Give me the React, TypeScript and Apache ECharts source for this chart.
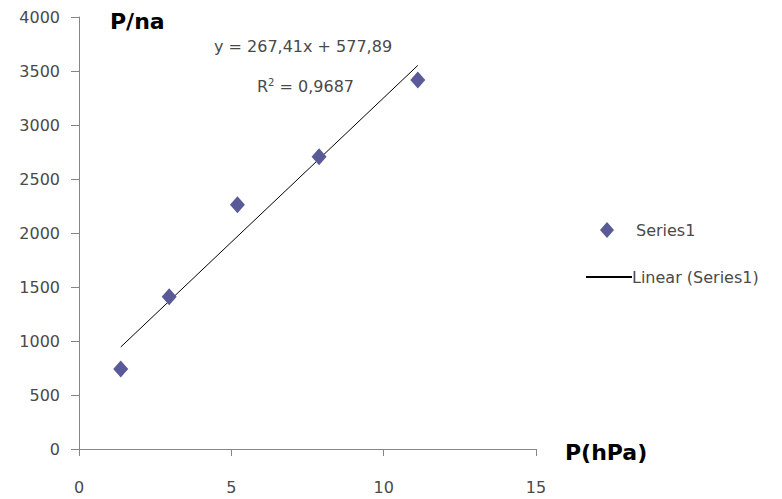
import React, { useEffect, useRef } from "react";
import * as echarts from "echarts";

const xValues = [1.37, 2.96, 5.2, 7.88, 11.12];
const yValues = [741, 1410, 2262, 2707, 3417];
const slope = 267.41;
const intercept = 577.89;
const rSquared = "0,9687";
const seriesName = "Series1";
const trendName = "Linear (Series1)";
const xTicks = [0, 5, 10, 15];
const yTicks = [0, 500, 1000, 1500, 2000, 2500, 3000, 3500, 4000];

const FONT = "DejaVu Sans";

export default function App() {
  const ref = useRef<HTMLDivElement>(null);
  useEffect(() => {
    if (!ref.current) return;
    const chart = echarts.init(ref.current, undefined, { renderer: "svg" });
    const points = xValues.map((x, i) => [x, yValues[i]]);
    const xMin = Math.min(...xValues);
    const xMax = Math.max(...xValues);
    const trend = [
      [xMin, slope * xMin + intercept],
      [xMax, slope * xMax + intercept],
    ];
    const fmt = (v: number) => v.toFixed(2).replace(".", ",");
    chart.setOption({
      animation: false,
      backgroundColor: "#ffffff",
      grid: { left: 79, right: 246, top: 17, bottom: 50, containLabel: false },
      xAxis: {
        type: "value",
        min: xTicks[0],
        max: xTicks[xTicks.length - 1],
        interval: 5,
        axisLine: { show: true, lineStyle: { color: "#868686", width: 1 } },
        axisTick: { show: true, length: 7, lineStyle: { color: "#868686" } },
        splitLine: { show: false },
        axisLabel: {
          margin: 30,
          color: "#4a4a4a",
          fontSize: 16,
          fontFamily: FONT,
          formatter: (v: number) => String(v),
        },
      },
      yAxis: {
        type: "value",
        min: yTicks[0],
        max: yTicks[yTicks.length - 1],
        interval: 500,
        axisLine: { show: true, lineStyle: { color: "#868686", width: 1 } },
        axisTick: { show: true, length: 8, lineStyle: { color: "#868686" } },
        splitLine: { show: false },
        axisLabel: {
          margin: 19,
          color: "#4a4a4a",
          fontSize: 16,
          fontFamily: FONT,
          formatter: (v: number) => String(v),
        },
      },
      legend: [
        {
          data: [{ name: seriesName, icon: "diamond" }],
          orient: "vertical",
          left: 600,
          top: 222,
          padding: 0,
          itemWidth: 14,
          itemHeight: 16,
          itemGap: 0,
          textStyle: { color: "#4a4a4a", fontSize: 16, fontFamily: FONT, padding: [0, 0, 0, 17] },
        },
        {
          data: [{ name: trendName, icon: "rect" }],
          orient: "vertical",
          left: 586,
          top: 269,
          padding: 0,
          itemWidth: 46,
          itemHeight: 2,
          itemGap: 0,
          textStyle: { color: "#4a4a4a", fontSize: 16, fontFamily: FONT, padding: [0, 0, 0, -5] },
        },
      ],
      graphic: [
        {
          type: "text",
          left: 110,
          top: 10,
          style: { text: "P/na", font: `bold 22px "${FONT}"`, fill: "#000000" },
        },
        {
          type: "text",
          left: 565,
          top: 441,
          style: { text: "P(hPa)", font: `bold 22px "${FONT}"`, fill: "#000000" },
        },
        {
          type: "text",
          left: 214,
          top: 38,
          style: {
            text: `y = ${fmt(slope)}x + ${fmt(intercept)}`,
            font: `16px "${FONT}"`,
            fill: "#4a4a4a",
          },
        },
        {
          type: "text",
          left: 257,
          top: 77,
          style: {
            text: `R{sup|2} = ${rSquared}`,
            font: `16px "${FONT}"`,
            fill: "#4a4a4a",
            rich: {
              sup: { fontSize: 10, fontFamily: FONT, fill: "#4a4a4a", verticalAlign: "top", padding: [0, 0, 8, 0] },
            },
          },
        },
      ],
      series: [
        {
          name: seriesName,
          type: "scatter",
          data: points,
          symbol: "diamond",
          symbolSize: [15, 17],
          itemStyle: { color: "#5a5a98", opacity: 1 },
          z: 3,
        },
        {
          name: trendName,
          type: "line",
          data: trend,
          symbol: "none",
          lineStyle: { color: "#000000", width: 1 },
          itemStyle: { color: "#000000" },
          z: 2,
        },
      ],
    });
    return () => chart.dispose();
  }, []);
  return (
    <div
      ref={ref}
      style={{ position: "absolute", left: 0, top: 0, width: 782, height: 499 }}
    />
  );
}
